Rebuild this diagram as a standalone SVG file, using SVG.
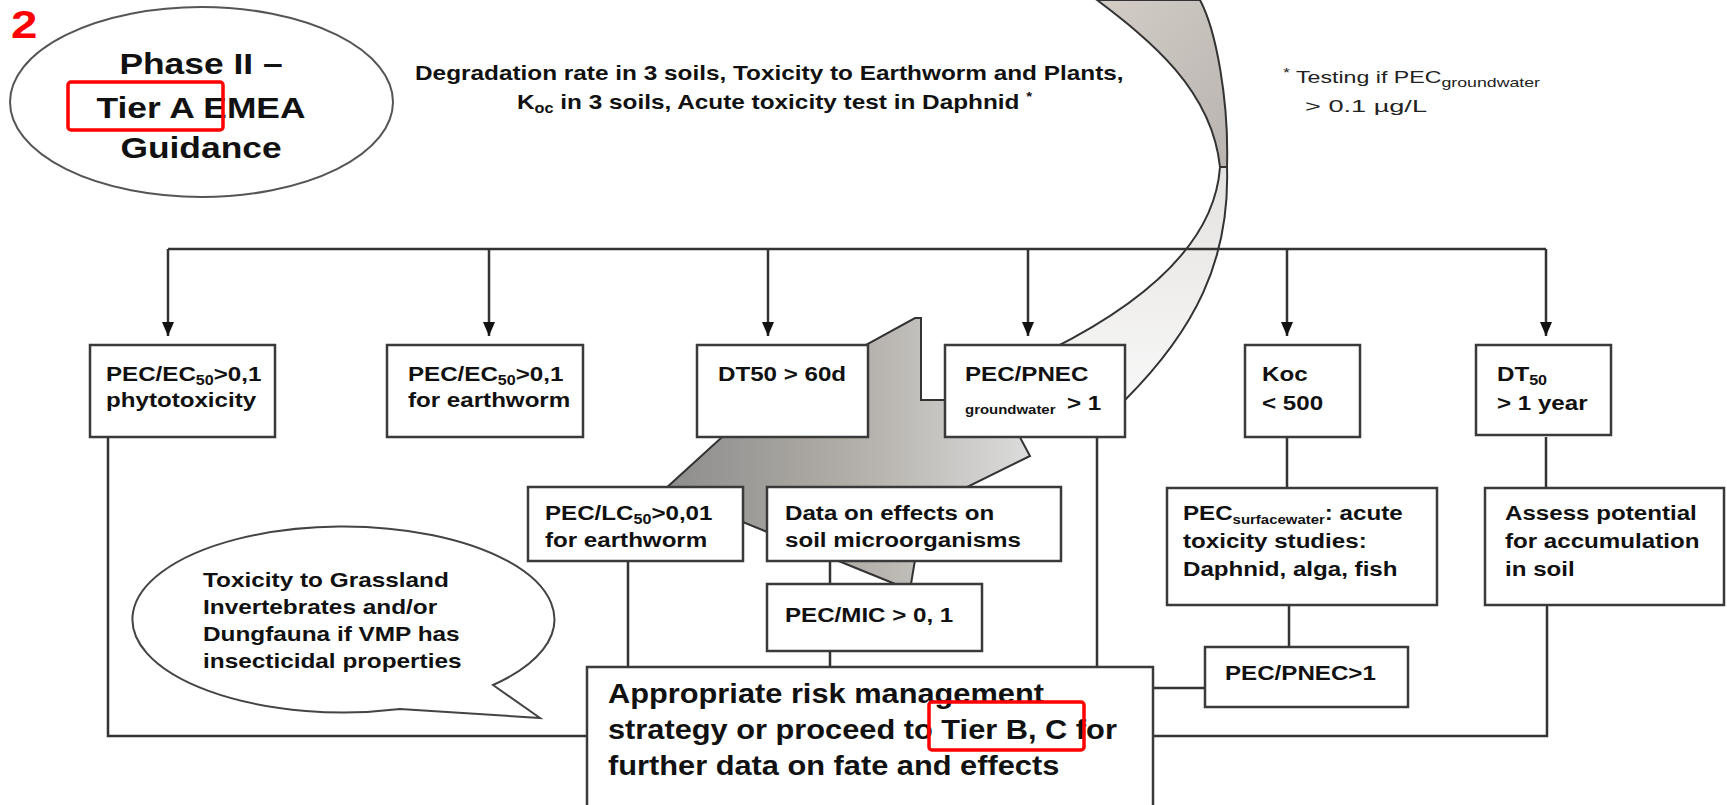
<svg xmlns="http://www.w3.org/2000/svg" width="1727" height="805" viewBox="0 0 1727 805">
<defs>
  <marker id="ah" viewBox="0 0 12 14" refX="6" refY="14" markerWidth="12" markerHeight="14" markerUnits="userSpaceOnUse" orient="0">
    <path d="M0,0 L12,0 L6,14 Z" fill="#111"/>
  </marker>
  <linearGradient id="gc" x1="0" y1="0" x2="1" y2="1">
    <stop offset="0" stop-color="#d3cdc6"/>
    <stop offset="1" stop-color="#b9b4b0"/>
  </linearGradient>
  <linearGradient id="gb" x1="0" y1="0" x2="0" y2="1">
    <stop offset="0" stop-color="#e4e2e0"/>
    <stop offset="1" stop-color="#fbfbfb"/>
  </linearGradient>
  <linearGradient id="ga" gradientUnits="userSpaceOnUse" x1="660" y1="0" x2="1030" y2="0">
    <stop offset="0" stop-color="#8c8c8c"/>
    <stop offset="0.5" stop-color="#b0aca6"/>
    <stop offset="1" stop-color="#dcdcdc"/>
  </linearGradient>
</defs>
<style>
  .box{fill:#fff;stroke:#3a3a3a;stroke-width:2.5}
  .ln{fill:none;stroke:#333;stroke-width:2.5}
  .ar{fill:none;stroke:#333;stroke-width:2.5;marker-end:url(#ah)}
  .t{font-family:"Liberation Sans",Arial,sans-serif;font-weight:bold;fill:#111}
  .s21{font-size:21px}
  .s27{font-size:27px}
  .n{font-family:"Liberation Sans",Arial,sans-serif;fill:#222;font-size:17px}
  .red{fill:none;stroke:#ff0000;stroke-width:3.5}
  .arrow3d{stroke:#333;stroke-width:2}
</style>

<!-- big curved 3D arrow (behind boxes) -->
<g id="curved-arrow">
  <path class="arrow3d" fill="url(#gc)" d="M1097,0 C1150,40 1212,90 1220,167 L1227,167 C1229,100 1216,30 1200,0 Z"/>
  <path class="arrow3d" fill="url(#gb)" d="M1220,167 C1215,240 1150,300 1050,350 L1000,380 L1090,432 L1125,400 C1195,330 1230,260 1227,167 Z"/>
  <path class="arrow3d" fill="url(#ga)" d="M915,318 L921,318 L921,400 L1000,400 L1030,456 L967,487 L915,560 L910,590 L664,490 L721,438 L780,400 L862,347 Z"/>
</g>

<!-- connectors -->
<g id="connectors">
  <path class="ln" d="M168,249 H1546"/>
  <path class="ar" d="M168,249 V336"/>
  <path class="ar" d="M489,249 V336"/>
  <path class="ar" d="M768,249 V336"/>
  <path class="ar" d="M1028,249 V336"/>
  <path class="ar" d="M1287,249 V336"/>
  <path class="ar" d="M1546,249 V336"/>
  <path class="ln" d="M108,437 V736 H587"/>
  <path class="ln" d="M628,561 V667"/>
  <path class="ln" d="M830,561 V584"/>
  <path class="ln" d="M830,651 V667"/>
  <path class="ln" d="M1097,437 V667"/>
  <path class="ln" d="M1287,437 V488"/>
  <path class="ln" d="M1289,605 V647"/>
  <path class="ln" d="M1205,688 H1153"/>
  <path class="ln" d="M1546,437 V488"/>
  <path class="ln" d="M1547,605 V736 H1153"/>
</g>

<!-- label 2 -->
<text transform="translate(11,38) scale(1.25,1)" style="font-family:'Liberation Sans',Arial,sans-serif;font-weight:bold;font-size:38px;fill:#ff0000">2</text>

<!-- title ellipse -->
<g id="title">
  <ellipse cx="201.5" cy="102" rx="191.5" ry="95" fill="#fff" stroke="#555" stroke-width="2"/>
  <text class="t" font-size="29" text-anchor="middle" transform="translate(201,74) scale(1.22,1)">Phase II –</text>
  <text class="t" font-size="29" text-anchor="middle" transform="translate(201,118) scale(1.22,1)">Tier A EMEA</text>
  <text class="t" font-size="29" text-anchor="middle" transform="translate(201,158) scale(1.22,1)">Guidance</text>
  <rect class="red" x="68" y="82" width="155" height="48" rx="3"/>
</g>

<!-- top texts -->
<g id="top-text">
  <text class="t s21" transform="translate(415,80) scale(1.16,1)">Degradation rate in 3 soils,  Toxicity to Earthworm and Plants,</text>
  <text class="t s21" transform="translate(517,109) scale(1.16,1)">K<tspan font-size="14" dy="4">oc</tspan><tspan dy="-4"> in 3 soils, Acute toxicity test in Daphnid </tspan><tspan font-size="13" dy="-8">*</tspan></text>
</g>
<g id="note">
  <text class="n" x="1283" y="83" textLength="257" lengthAdjust="spacingAndGlyphs"><tspan font-size="13" dy="-6">*</tspan><tspan dy="6"> Testing if PEC</tspan><tspan font-size="13" dy="4">groundwater</tspan></text>
  <text class="n" x="1305" y="112" textLength="122" lengthAdjust="spacingAndGlyphs">&gt;   0.1 µg/L</text>
</g>

<!-- row 1 -->
<g id="box-a">
  <rect class="box" x="90" y="345" width="185" height="92"/>
  <text class="t s21" transform="translate(106,381) scale(1.15,1)">PEC/EC<tspan font-size="14" dy="4">50</tspan><tspan dy="-4">&gt;0,1</tspan></text>
  <text class="t s21" transform="translate(106,407) scale(1.15,1)">phytotoxicity</text>
</g>
<g id="box-b">
  <rect class="box" x="387" y="345" width="196" height="92"/>
  <text class="t s21" transform="translate(408,381) scale(1.15,1)">PEC/EC<tspan font-size="14" dy="4">50</tspan><tspan dy="-4">&gt;0,1</tspan></text>
  <text class="t s21" transform="translate(408,407) scale(1.15,1)">for earthworm</text>
</g>
<g id="box-c">
  <rect class="box" x="697" y="345" width="171" height="92"/>
  <text class="t s21" transform="translate(718,381) scale(1.15,1)">DT50 &gt; 60d</text>
</g>
<g id="box-d">
  <rect class="box" x="945" y="345" width="180" height="92"/>
  <text class="t s21" transform="translate(965,381) scale(1.15,1)">PEC/PNEC</text>
  <text class="t" font-size="13" transform="translate(965,414) scale(1.15,1)">groundwater</text>
  <text class="t s21" transform="translate(1067,410) scale(1.15,1)">&gt; 1</text>
</g>
<g id="box-e">
  <rect class="box" x="1245" y="345" width="115" height="92"/>
  <text class="t s21" transform="translate(1262,381) scale(1.15,1)">Koc</text>
  <text class="t s21" transform="translate(1262,410) scale(1.15,1)">&lt; 500</text>
</g>
<g id="box-f">
  <rect class="box" x="1476" y="345" width="135" height="90"/>
  <text class="t s21" transform="translate(1497,381) scale(1.15,1)">DT<tspan font-size="14" dy="4">50</tspan></text>
  <text class="t s21" transform="translate(1497,410) scale(1.15,1)">&gt; 1 year</text>
</g>

<!-- row 2 -->
<g id="box-lc50">
  <rect class="box" x="528" y="487" width="215" height="74"/>
  <text class="t s21" transform="translate(545,520) scale(1.15,1)">PEC/LC<tspan font-size="14" dy="4">50</tspan><tspan dy="-4">&gt;0,01</tspan></text>
  <text class="t s21" transform="translate(545,547) scale(1.15,1)">for earthworm</text>
</g>
<g id="box-data">
  <rect class="box" x="767" y="487" width="294" height="74"/>
  <text class="t s21" transform="translate(785,520) scale(1.15,1)">Data on effects on</text>
  <text class="t s21" transform="translate(785,547) scale(1.15,1)">soil microorganisms</text>
</g>
<g id="box-mic">
  <rect class="box" x="767" y="584" width="215" height="67"/>
  <text class="t s21" transform="translate(785,622) scale(1.15,1)">PEC/MIC &gt; 0, 1</text>
</g>
<g id="box-sw">
  <rect class="box" x="1167" y="488" width="270" height="117"/>
  <text class="t s21" transform="translate(1183,520) scale(1.15,1)">PEC<tspan font-size="13" dy="4">surfacewater</tspan><tspan dy="-4">: acute</tspan></text>
  <text class="t s21" transform="translate(1183,548) scale(1.15,1)">toxicity studies:</text>
  <text class="t s21" transform="translate(1183,576) scale(1.15,1)">Daphnid, alga, fish</text>
</g>
<g id="box-assess">
  <rect class="box" x="1485" y="488" width="239" height="117"/>
  <text class="t s21" transform="translate(1505,520) scale(1.15,1)">Assess potential</text>
  <text class="t s21" transform="translate(1505,548) scale(1.15,1)">for accumulation</text>
  <text class="t s21" transform="translate(1505,576) scale(1.15,1)">in soil</text>
</g>
<g id="box-pnec1">
  <rect class="box" x="1205" y="647" width="203" height="60"/>
  <text class="t s21" transform="translate(1225,680) scale(1.15,1)">PEC/PNEC&gt;1</text>
</g>

<!-- speech bubble -->
<g id="bubble">
  <path d="M493,685 L540,718 L400,709 A211,93 0 1 1 493,685 Z" fill="#fff" stroke="#444" stroke-width="2"/>
  <text class="t s21" transform="translate(203,587) scale(1.16,1)">Toxicity to Grassland</text>
  <text class="t s21" transform="translate(203,614) scale(1.16,1)">Invertebrates  and/or</text>
  <text class="t s21" transform="translate(203,641) scale(1.16,1)">Dungfauna if VMP has</text>
  <text class="t s21" transform="translate(203,668) scale(1.16,1)">insecticidal properties</text>
</g>

<!-- bottom box -->
<g id="box-final">
  <rect class="box" x="587" y="667" width="566" height="160"/>
  <text class="t s27" transform="translate(608,703) scale(1.14,1)">Appropriate risk management</text>
  <text class="t s27" transform="translate(608,739) scale(1.14,1)">strategy or proceed to Tier B, C for</text>
  <text class="t s27" transform="translate(608,775) scale(1.14,1)">further data on fate and effects</text>
  <rect class="red" x="929" y="702" width="155" height="48" rx="3"/>
</g>
</svg>
